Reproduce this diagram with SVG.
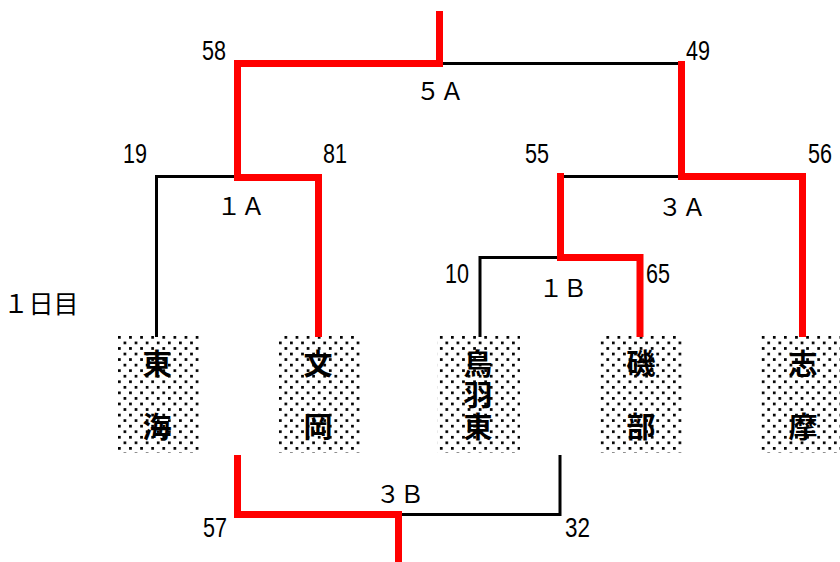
<svg xmlns="http://www.w3.org/2000/svg" width="840" height="562" viewBox="0 0 840 562">
<style>
.blk{fill:none;stroke:#000;stroke-width:3;stroke-linejoin:miter}
.red{fill:none;stroke:#FF0000;stroke-width:7;stroke-linejoin:miter}
.sc{font-family:"Liberation Sans",Arial,sans-serif;font-size:27px;fill:#000}
.lb{font-family:"Noto Sans CJK JP","Noto Sans CJK SC",sans-serif;font-size:24px;fill:#000;text-anchor:middle}
.nm{font-family:"Noto Sans CJK JP","Noto Sans CJK SC",sans-serif;font-size:29px;font-weight:bold;fill:#000;text-anchor:middle}
.box{fill:url(#dots);stroke:none}
</style>
<defs>
<pattern id="dots" patternUnits="userSpaceOnUse" x="118" y="336" width="11.1" height="11.1">
<rect x="0" y="0" width="2.7" height="2.7" fill="#000"/>
<rect x="5.55" y="5.55" width="2.7" height="2.7" fill="#000"/>
</pattern>
</defs>
<rect width="840" height="562" fill="#fff"/>
<g id="node-tokai">
<rect class="box" x="117" y="335" width="83" height="118"/>
<text class="nm"><tspan x="157" y="375">東</tspan><tspan x="157" y="438">海</tspan></text>
</g>
<g id="node-bunoka">
<rect class="box" x="277" y="335" width="83" height="118"/>
<text class="nm"><tspan x="318" y="375">文</tspan><tspan x="318" y="438">岡</tspan></text>
</g>
<g id="node-tobahigashi">
<rect class="box" x="437" y="335" width="83" height="118"/>
<text class="nm"><tspan x="478" y="375">鳥</tspan><tspan x="478" y="406">羽</tspan><tspan x="478" y="438">東</tspan></text>
</g>
<g id="node-isobe">
<rect class="box" x="600" y="335" width="83" height="118"/>
<text class="nm"><tspan x="641" y="375">磯</tspan><tspan x="641" y="438">部</tspan></text>
</g>
<g id="node-shima">
<rect class="box" x="760" y="335" width="80" height="118"/>
<text class="nm"><tspan x="803" y="375">志</tspan><tspan x="803" y="438">摩</tspan></text>
</g>
<g id="connectors">
<polyline class="blk" points="156.5,337 156.5,176.5 237.5,176.5"/>
<polyline class="blk" points="439.5,63.5 681.5,63.5"/>
<polyline class="blk" points="560.5,176.5 681.5,176.5"/>
<polyline class="blk" points="480,337 480,257.5 560.5,257.5"/>
<polyline class="blk" points="398.5,514.5 560,514.5 560,455"/>
<polyline class="red" points="439.5,11 439.5,63.5 237.5,63.5 237.5,177.5 318.5,177.5 318.5,337"/>
<polyline class="red" points="681.5,61 681.5,176.5 802.5,176.5 802.5,337"/>
<polyline class="red" points="560.5,173 560.5,257.5 640,257.5 640,337"/>
<polyline class="red" points="237.5,455 237.5,514.5 398.5,514.5 398.5,562"/>
</g>
<g id="labels">
<text class="sc" x="202" y="60" textLength="24" lengthAdjust="spacingAndGlyphs">58</text>
<text class="sc" x="686" y="60" textLength="24" lengthAdjust="spacingAndGlyphs">49</text>
<text class="sc" x="123" y="163" textLength="24" lengthAdjust="spacingAndGlyphs">19</text>
<text class="sc" x="323" y="163" textLength="24" lengthAdjust="spacingAndGlyphs">81</text>
<text class="sc" x="525" y="163" textLength="24" lengthAdjust="spacingAndGlyphs">55</text>
<text class="sc" x="808" y="163" textLength="24" lengthAdjust="spacingAndGlyphs">56</text>
<text class="sc" x="445" y="283" textLength="24" lengthAdjust="spacingAndGlyphs">10</text>
<text class="sc" x="646" y="283" textLength="24" lengthAdjust="spacingAndGlyphs">65</text>
<text class="sc" x="203" y="537" textLength="24" lengthAdjust="spacingAndGlyphs">57</text>
<text class="sc" x="565" y="537" textLength="25" lengthAdjust="spacingAndGlyphs">32</text>
<text class="lb" x="440" y="100">５Ａ</text>
<text class="lb" x="241" y="215">１Ａ</text>
<text class="lb" x="682" y="216">３Ａ</text>
<text class="lb" x="563" y="297">１Ｂ</text>
<text class="lb" x="400" y="503">３Ｂ</text>
<text class="lb" x="41" y="313" style="font-size:25px">１日目</text>
</g>
</svg>
